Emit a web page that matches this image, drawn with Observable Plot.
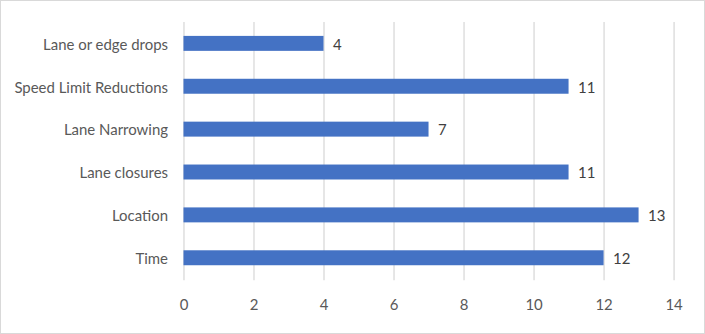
<!DOCTYPE html>
<html>
<head>
<meta charset="utf-8">
<script src="https://cdn.jsdelivr.net/npm/d3@7"></script>
<script src="https://cdn.jsdelivr.net/npm/@observablehq/plot@0.6"></script>
<style>
  html, body { margin: 0; padding: 0; background: #fff; }
  #chart { position: relative; width: 705px; height: 334px; box-sizing: border-box; border: 1px solid #d9d9d9; }
  #chart svg { position: absolute; left: -1px; top: -1px; }
</style>
</head>
<body>
<div id="chart"></div>
<script>
const categories = ["Lane or edge drops", "Speed Limit Reductions", "Lane Narrowing", "Lane closures", "Location", "Time"];
const values = [4, 11, 7, 11, 13, 12];
const xTicks = [0, 2, 4, 6, 8, 10, 12, 14];

const data = categories.map((c, i) => ({category: c, value: values[i]}));
const font = "Lato, 'Open Sans', sans-serif";

const chart = Plot.plot({
  width: 705,
  height: 334,
  marginLeft: 184,
  marginRight: 29.5,
  marginTop: 22,
  marginBottom: 53,
  style: {fontFamily: font, fontSize: "15px", color: "#595959", background: "transparent"},
  x: {domain: [0, 14], ticks: xTicks, label: null},
  y: {domain: categories, label: null, paddingInner: 0.65, paddingOuter: 0.325, align: 0.5},
  marks: [
    Plot.ruleX(xTicks, {stroke: "#d9d9d9", strokeWidth: 1.3, strokeOpacity: 1}),
    Plot.barX(data, {x: "value", y: "category", fill: "#4472C4"}),
    Plot.text(data, {x: "value", y: "category", text: d => String(d.value), textAnchor: "start", dx: 9, dy: 1, fill: "#404040", fontSize: 15}),
    Plot.axisX({ticks: xTicks, tickSize: 0, tickPadding: 19, fontSize: 15, fill: "#595959", label: null}),
    Plot.axisY({tickSize: 0, tickPadding: 16, dy: 1, fontSize: 15, fill: "#595959", label: null})
  ]
});
document.getElementById("chart").appendChild(chart);
</script>
</body>
</html>
